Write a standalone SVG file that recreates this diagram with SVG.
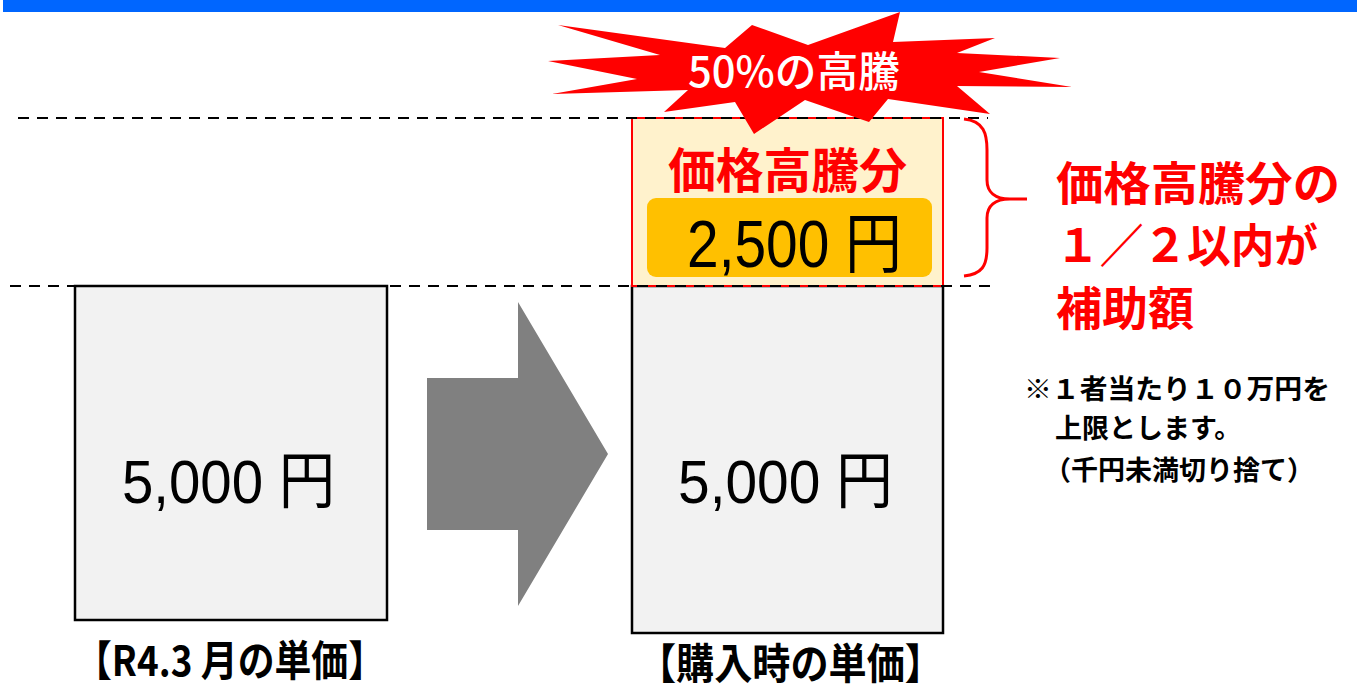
<svg xmlns="http://www.w3.org/2000/svg" width="1357" height="684" viewBox="0 0 1357 684">
<style>
.t{font-family:"Liberation Sans","Noto Sans CJK JP",sans-serif}
.j{font-family:"Noto Sans CJK JP","Liberation Sans",sans-serif}
.box{fill:#F2F2F2;stroke:#000;stroke-width:2.5}
.dash{stroke:#000;stroke-width:2;stroke-dasharray:11 8;fill:none}
.big{font-size:62px;fill:#000}
.red{fill:#FF0000;font-weight:bold}
.note{font-size:27px;font-weight:bold;fill:#000}
.lab{font-size:42px;font-weight:bold;fill:#000}
</style>
<rect x="3" y="0" width="1354" height="12" fill="#0066FF"/>
<g id="node-left">
<rect class="box" x="75" y="286" width="312" height="334"/>
<text class="t big" x="122" y="503" textLength="213" lengthAdjust="spacingAndGlyphs">5,000 円</text>
</g>
<g id="node-arrow">
<polygon points="427,378 518,378 518,302 608,454 518,606 518,530 427,530" fill="#808080"/>
</g>
<g id="node-right">
<rect class="box" x="632" y="286" width="311" height="347"/>
<text class="t big" x="678" y="503" textLength="215" lengthAdjust="spacingAndGlyphs">5,000 円</text>
</g>
<g id="node-increase">
<rect x="632" y="118" width="311" height="168" fill="#FFF2CC" stroke="#FF0000" stroke-width="2"/>
<text class="j red" x="668" y="188" font-size="48" textLength="239" lengthAdjust="spacingAndGlyphs">価格高騰分</text>
<rect x="647" y="198" width="285" height="79" rx="9" fill="#FFC000"/>
<text class="t" x="687" y="267" font-size="66" fill="#000" textLength="215" lengthAdjust="spacingAndGlyphs">2,500 円</text>
</g>
<g id="connectors">
<line class="dash" x1="18" y1="118" x2="988" y2="118"/>
<line class="dash" x1="10" y1="286" x2="994" y2="286"/>
<path d="M964,119 C984,121 987,134 987,150 L987,180 C987,192 995,199 1010,199 L1027,199 M1010,199 C995,199 987,206 987,218 L987,248 C987,266 982,274 964,276" fill="none" stroke="#FF0000" stroke-width="3"/>
</g>
<g id="node-burst">
<polygon points="558,25 725,48 752,25 808,45 900,12 893,42 995,38 957,53 1060,58 979,72 1072,87 957,86 990,114 888,99 869,122 805,100 754,134 735,102 664,112 688,90 552,94 637,79 548,61 660,55" fill="#FF0000"/>
<text class="j" x="688" y="87" font-size="42" font-weight="500" fill="#FFFFFF" textLength="212" lengthAdjust="spacingAndGlyphs">50%の高騰</text>
</g>
<g id="node-subsidy">
<text class="j red" x="1056" y="200" font-size="46" textLength="284" lengthAdjust="spacingAndGlyphs">価格高騰分の</text>
<text class="j red" x="1056" y="262" font-size="46" textLength="262" lengthAdjust="spacingAndGlyphs">１／２以内が</text>
<text class="j red" x="1056" y="325" font-size="46">補助額</text>
</g>
<g id="node-note">
<text class="j note" x="1024" y="399" textLength="306" lengthAdjust="spacingAndGlyphs">※１者当たり１０万円を</text>
<text class="j note" x="1055" y="438">上限とします。</text>
<text class="j note" x="1044" y="480">（千円未満切り捨て）</text>
</g>
<g id="labels">
<text class="j lab" x="75" y="676" textLength="310" lengthAdjust="spacingAndGlyphs">【R4.3 月の単価】</text>
<text class="j lab" x="638" y="679" textLength="305" lengthAdjust="spacingAndGlyphs">【購入時の単価】</text>
</g>
</svg>
